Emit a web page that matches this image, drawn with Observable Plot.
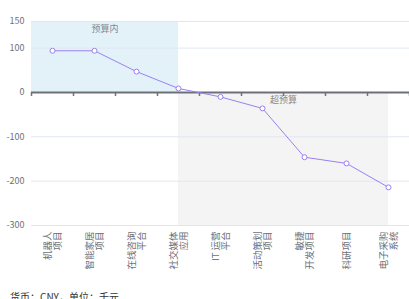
<!DOCTYPE html>
<html><head><meta charset="utf-8">
<script src="https://cdn.jsdelivr.net/npm/d3@7"></script>
<script src="https://cdn.jsdelivr.net/npm/@observablehq/plot@0.6"></script>
<style>
body{margin:0;background:#fff;font-family:"Noto Sans CJK SC","Noto Sans",sans-serif;}
#cap{font-size:10px;line-height:12px;color:#333;margin-left:10px;white-space:nowrap;}
</style></head>
<body><div id="chart"></div><div id="cap">货币：CNY，单位：千元</div>
<script>
const categories = ["机器人项目","智能家居项目","在线咨询平台","社交媒体应用","IT 运营平台","活动策划项目","敏捷开发项目","科研项目","电子采购系统"];
const tickLabels = ["机器人\n项目","智能家居\n项目","在线咨询\n平台","社交媒体\n应用","IT 运营\n平台","活动策划\n项目","敏捷\n开发项目","科研项目","电子采购\n系统"];
const values = [94, 94, 47, 9, -10, -36, -146, -160, -214];
const yTicks = [-300, -200, -100, 0, 100, 160];
const yTickText = ["-300", "-200", "-100", "0", "100", "150"];
const areaLabels = ["预算内", "超预算"];
const areaFrom = ["start", "社交媒体应用"];
const areaTo = ["社交媒体应用", "电子采购系统"];
const areaBottom = [0, -300];
const areaTop = [160, 0];

const data = categories.map((c, i) => ({c, i, v: values[i], label: tickLabels[i]}));
const pos = name => name === "start" ? -0.5 : categories.indexOf(name);
const areas = areaLabels.map((l, k) => ({l, x1: pos(areaFrom[k]), x2: pos(areaTo[k]), y1: areaBottom[k], y2: areaTop[k]}));
const bounds = d3.range(categories.length + 1).map(i => i - 0.5);
const lineColor = "#9b80f2";
const gray = "#6e7079";

const chart = Plot.plot({
  width: 409, height: 291,
  marginLeft: 31, marginRight: 0, marginTop: 21, marginBottom: 66,
  style: {fontFamily: '"Noto Sans CJK SC","Noto Sans",sans-serif', fontSize: "9px", background: "#fff"},
  x: {type: "linear", domain: [-0.5, categories.length - 0.5], axis: null},
  y: {domain: [-300, 160], axis: null},
  marks: [
    Plot.rect(areas, {x1: "x1", x2: "x2", y1: "y1", y2: "y2", fill: (d, k) => k === 0 ? "#e3f2f9" : "#f4f4f4"}),
    Plot.gridY(yTicks, {stroke: "#e0e6f1", strokeOpacity: 1}),
    Plot.axisY(yTicks, {tickSize: 0, tickPadding: 7, tickFormat: d => yTickText[yTicks.indexOf(d)], fill: gray, fontSize: 9, textAnchor: "end"}),
    Plot.text(areas, {x: d => (d.x1 + d.x2) / 2, y: "y2", text: "l", dy: 8, fill: "#888", fontSize: 9}),
    Plot.ruleY([0], {stroke: gray, strokeWidth: 2}),
    Plot.ruleX(bounds, {x: d => d, y1: () => 0, y2: () => 0, insetBottom: -4, stroke: gray, strokeWidth: 1.5}),
    Plot.line(data, {x: "i", y: "v", stroke: lineColor, strokeWidth: 1}),
    Plot.dot(data, {x: "i", y: "v", r: 2.5, fill: "#fff", stroke: lineColor, strokeWidth: 1}),
    Plot.text(data, {x: "i", y: () => -300, text: "label", rotate: -90, textAnchor: "end", dy: 6, lineHeight: 1.1, fill: gray, fontSize: 9.5})
  ]
});
document.getElementById("chart").appendChild(chart);
</script>
</body></html>
